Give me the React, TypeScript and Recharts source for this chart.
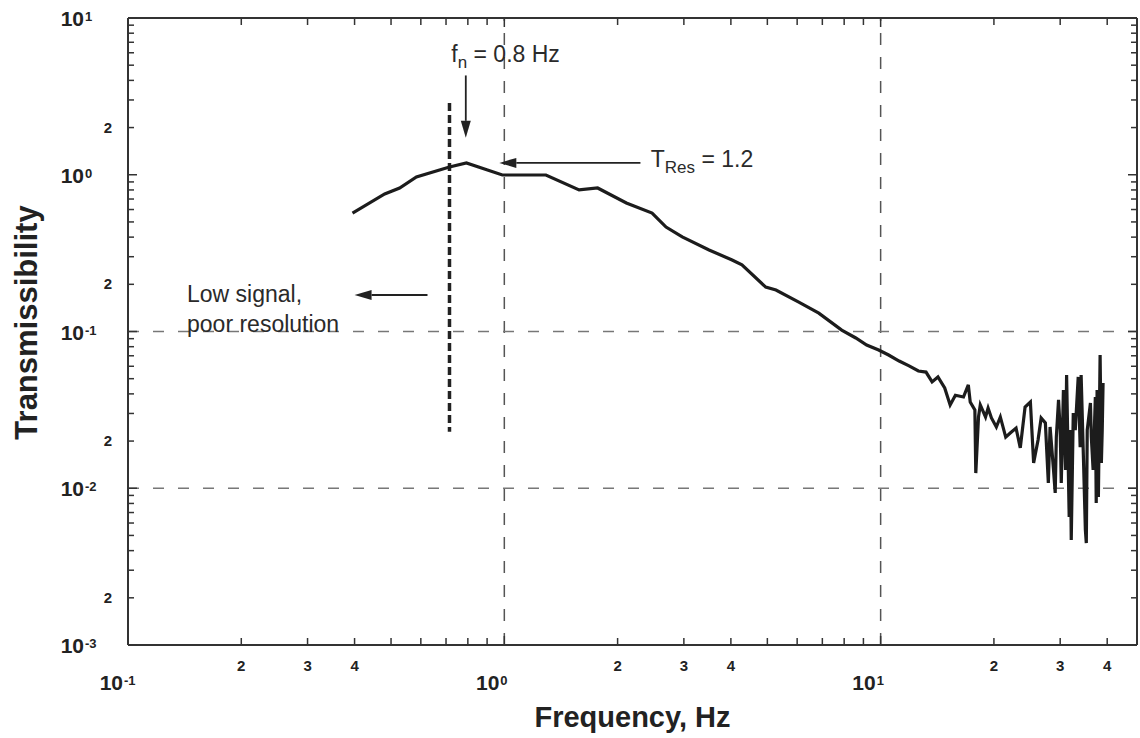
import { LineChart, Line, XAxis, YAxis, ReferenceLine, ReferenceDot, Label } from 'recharts'

const frequency = [
  0.395, 0.481, 0.527, 0.584, 0.715, 0.793, 0.988, 1.29, 1.58, 1.77, 2.11, 2.47, 2.69, 2.97, 3.5, 4.03, 4.28,
  4.95, 5.27, 6.06, 6.85, 7.88, 8.59, 9.18, 9.88, 10.5, 11.2, 11.9, 12.6, 13.2, 13.7, 14.2, 14.8, 15.3, 15.8,
  16.6, 17.1, 17.3, 17.8, 17.9, 18.2, 18.4, 19.0, 19.3, 19.7, 20.3, 20.8, 21.5, 22.1, 22.9, 23.5, 24.2, 25.0,
  25.5, 26.2, 26.7, 27.4, 27.9, 28.2, 28.8, 29.1, 29.3, 29.7, 30.0, 30.2, 30.6, 31.0, 31.2, 31.7, 31.9, 32.1,
  32.5, 32.9, 33.5, 33.9, 34.1, 34.6, 35.0, 35.2, 35.4, 36.1, 36.3, 36.7, 37.2, 37.4, 37.6, 37.9, 38.3, 38.6,
  38.8, 39.0,
]
const transmissibility = [
  0.57, 0.754, 0.823, 0.967, 1.12, 1.19, 0.996, 0.996, 0.8, 0.823, 0.66, 0.57, 0.464, 0.401, 0.331, 0.286,
  0.266, 0.192, 0.184, 0.154, 0.131, 0.102, 0.0909, 0.082, 0.0762, 0.0708, 0.0648, 0.0603, 0.056, 0.0551,
  0.0477, 0.0513, 0.0436, 0.034, 0.0392, 0.0382, 0.0456, 0.0355, 0.0316, 0.0125, 0.0285, 0.034, 0.0285,
  0.0325, 0.0281, 0.0246, 0.0285, 0.0212, 0.0225, 0.0242, 0.0181, 0.033, 0.0355, 0.0145, 0.0203, 0.0281,
  0.0261, 0.0108, 0.0246, 0.0131, 0.00933, 0.0212, 0.0366, 0.0235, 0.0108, 0.0423, 0.0131, 0.0528, 0.00655,
  0.0235, 0.00468, 0.0302, 0.0235, 0.0513, 0.0183, 0.0528, 0.0151, 0.00542, 0.00447, 0.0235, 0.035, 0.0212,
  0.0131, 0.0382, 0.00805, 0.0423, 0.00879, 0.0708, 0.0145, 0.0235, 0.0469,
]

// axis ticks
const xDecades = [0.1, 1, 10]
const yDecades = [0.001, 0.01, 0.1, 1, 10]
const minorMantissas = [2, 3, 4, 5, 6, 7, 8, 9]
const xLabeledMantissas = [2, 3, 4]
const yLabeledMantissas = [2]
const xMin = 0.1
const xMax = 48
const yMin = 0.001
const yMax = 10

// layout
const CHART_W = 1140
const CHART_H = 738
const MARGIN = { top: 18, right: 2, bottom: 3, left: 0 }
const Y_AXIS_W = 128
const RIGHT_AXIS_W = 1
const PLOT_W = CHART_W - MARGIN.left - MARGIN.right - Y_AXIS_W - RIGHT_AXIS_W

const data = frequency.map((f, i) => ({ f, v: transmissibility[i] }))

const buildTicks = (decades: number[], max: number) => {
  const out: number[] = []
  decades.forEach((d) => {
    out.push(d)
    minorMantissas.forEach((m) => {
      const t = Number((m * d).toPrecision(6))
      if (t <= max) out.push(t)
    })
  })
  return out.sort((a, b) => a - b)
}
const xTicks = buildTicks(xDecades, xMax)
const yTicks = buildTicks(yDecades, yMax)

const split = (v: number) => {
  const exp = Math.floor(Math.log10(v) + 1e-9)
  const mant = Math.round(v / Math.pow(10, exp))
  return { exp, mant }
}

const FONT = '"Liberation Sans", Arial, Helvetica, sans-serif'
const INK = '#222'
const FRAME = '#333'

const BottomTick = (props: any) => {
  const { x, y, payload } = props
  const { exp, mant } = split(payload.value)
  const major = mant === 1
  return (
    <g fontFamily={FONT} fontWeight="bold" fill={INK}>
      <line x1={x} x2={x} y1={y} y2={y - (major ? 9 : 7)} stroke={FRAME} strokeWidth={1.5} />
      {major ? (
        <>
          <text x={x - 5} y={y + 45} fontSize={21} textAnchor="end">10</text>
          <text x={x - 4} y={y + 40} fontSize={13} textAnchor="start">{exp}</text>
        </>
      ) : xLabeledMantissas.includes(mant) ? (
        <text x={x} y={y + 26} fontSize={15} textAnchor="middle">{mant}</text>
      ) : null}
    </g>
  )
}

// top edge of the frame, hung off the highest left tick
const TopEdge = ({ x, y }: { x: number; y: number }) => {
  const lx = Math.log10(xMin)
  const span = Math.log10(xMax) - lx
  return (
    <g>
      <line x1={x} x2={x + PLOT_W} y1={y} y2={y} stroke={FRAME} strokeWidth={2} />
      {xTicks.map((t) => {
        const px = x + ((Math.log10(t) - lx) / span) * PLOT_W
        return <line key={t} x1={px} x2={px} y1={y} y2={y + (split(t).mant === 1 ? 9 : 7)} stroke={FRAME} strokeWidth={1.5} />
      })}
    </g>
  )
}

const LeftTick = (props: any) => {
  const { x, y, payload } = props
  const { exp, mant } = split(payload.value)
  const major = mant === 1
  return (
    <g fontFamily={FONT} fontWeight="bold" fill={INK}>
      {payload.value === yMax ? <TopEdge x={x} y={y} /> : null}
      <line x1={x} x2={x + (major ? 9 : 6)} y1={y} y2={y} stroke={FRAME} strokeWidth={1.5} />
      {major ? (
        <>
          <text x={x - 44} y={y + 8} fontSize={21} textAnchor="end">10</text>
          <text x={x - 43} y={y + 3} fontSize={13} textAnchor="start">{exp}</text>
        </>
      ) : yLabeledMantissas.includes(mant) ? (
        <text x={x - 16} y={y + 5} fontSize={15} textAnchor="end">{mant}</text>
      ) : null}
    </g>
  )
}

const RightTick = (props: any) => {
  const { x, y, payload } = props
  const { mant } = split(payload.value)
  return <line x1={x} x2={x - (mant === 1 ? 9 : 6)} y1={y} y2={y} stroke={FRAME} strokeWidth={1.5} />
}

const Arrow = (props: any) => {
  const { x1, y1, x2, y2 } = props
  const dx = x2 - x1
  const dy = y2 - y1
  const len = Math.hypot(dx, dy) || 1
  const ux = dx / len
  const uy = dy / len
  const head = 17
  const half = 5
  const bx = x2 - ux * head
  const by = y2 - uy * head
  return (
    <g>
      <line x1={x1} y1={y1} x2={bx} y2={by} stroke={INK} strokeWidth={1.8} />
      <polygon
        points={`${x2},${y2} ${bx - uy * half},${by + ux * half} ${bx + uy * half},${by - ux * half}`}
        fill={INK}
      />
    </g>
  )
}

const noteStyle = { fontFamily: FONT, fontSize: 23, fill: '#2a2a2a' }

const FnText = (p: any) => (
  <text x={p.cx} y={p.cy} {...noteStyle}>
    f<tspan fontSize={17} dy={6}>n</tspan>
    <tspan dy={-6}> = 0.8 Hz</tspan>
  </text>
)

const TresText = (p: any) => (
  <text x={p.cx} y={p.cy} {...noteStyle}>
    T<tspan fontSize={17} dy={6}>Res</tspan>
    <tspan dy={-6}> = 1.2</tspan>
  </text>
)

const lineText = (s: string) => (p: any) => (
  <text x={p.cx} y={p.cy} {...noteStyle}>{s}</text>
)

const xTitle = (p: any) => {
  const vb = p.viewBox
  return (
    <text x={vb.x + vb.width / 2} y={vb.y + 82} textAnchor="middle" fontFamily={FONT} fontWeight="bold" fontSize={29} fill={INK}>
      Frequency, Hz
    </text>
  )
}

const yTitle = (p: any) => {
  const vb = p.viewBox
  const cx = vb.x + 37
  const cy = vb.y + vb.height / 2 - 9
  return (
    <text x={cx} y={cy} transform={`rotate(-90, ${cx}, ${cy})`} textAnchor="middle" fontFamily={FONT} fontWeight="bold" fontSize={31} fill={INK}>
      Transmissibility
    </text>
  )
}

export default function App() {
  return (
    <div style={{ position: 'absolute', left: 0, top: 0, width: CHART_W, height: CHART_H, background: '#fff' }}>
      <LineChart width={CHART_W} height={CHART_H} data={data} margin={MARGIN}>
        <XAxis
          xAxisId="b"
          dataKey="f"
          type="number"
          scale="log"
          domain={[xMin, xMax]}
          allowDataOverflow
          ticks={xTicks}
          interval={0}
          tickSize={0}
          tickMargin={0}
          tickLine={false}
          tick={<BottomTick />}
          height={90}
          axisLine={{ stroke: FRAME, strokeWidth: 2 }}
        >
          <Label content={xTitle} />
        </XAxis>
        <YAxis
          yAxisId="l"
          type="number"
          scale="log"
          domain={[yMin, yMax]}
          allowDataOverflow
          ticks={yTicks}
          interval={0}
          tickSize={0}
          tickMargin={0}
          tickLine={false}
          tick={<LeftTick />}
          width={Y_AXIS_W}
          axisLine={{ stroke: FRAME, strokeWidth: 2 }}
        >
          <Label content={yTitle} />
        </YAxis>
        <YAxis
          yAxisId="r"
          orientation="right"
          type="number"
          scale="log"
          domain={[yMin, yMax]}
          allowDataOverflow
          ticks={yTicks}
          interval={0}
          tickSize={0}
          tickMargin={0}
          tickLine={false}
          tick={<RightTick />}
          width={RIGHT_AXIS_W}
          axisLine={{ stroke: FRAME, strokeWidth: 2 }}
        />

        {/* decade grid */}
        <ReferenceLine xAxisId="b" yAxisId="l" x={1} stroke="#555" strokeWidth={1.5} strokeDasharray="12 12" />
        <ReferenceLine xAxisId="b" yAxisId="l" x={10} stroke="#555" strokeWidth={1.5} strokeDasharray="12 12" />
        <ReferenceLine xAxisId="b" yAxisId="l" y={0.1} stroke="#777" strokeWidth={1.5} strokeDasharray="11 14" />
        <ReferenceLine xAxisId="b" yAxisId="l" y={0.01} stroke="#777" strokeWidth={1.5} strokeDasharray="11 14" />

        {/* natural frequency marker */}
        <ReferenceLine
          xAxisId="b"
          yAxisId="l"
          segment={[{ x: 0.715, y: 2.87 }, { x: 0.715, y: 0.0229 }]}
          stroke={INK}
          strokeWidth={3.5}
          strokeDasharray="8 4"
        />

        <Line
          xAxisId="b"
          yAxisId="l"
          type="linear"
          dataKey="v"
          stroke="#1c1c1c"
          strokeWidth={3.2}
          dot={false}
          isAnimationActive={false}
        />

        {/* annotations */}
        <ReferenceLine xAxisId="b" yAxisId="l" segment={[{ x: 0.79, y: 4.3 }, { x: 0.79, y: 1.72 }]} shape={Arrow} />
        <ReferenceLine xAxisId="b" yAxisId="l" segment={[{ x: 2.3, y: 1.19 }, { x: 0.97, y: 1.19 }]} shape={Arrow} />
        <ReferenceLine xAxisId="b" yAxisId="l" segment={[{ x: 0.625, y: 0.171 }, { x: 0.4, y: 0.171 }]} shape={Arrow} />
        <ReferenceDot xAxisId="b" yAxisId="l" x={0.723} y={5.24} r={0} shape={FnText} />
        <ReferenceDot xAxisId="b" yAxisId="l" x={2.45} y={1.12} r={0} shape={TresText} />
        <ReferenceDot xAxisId="b" yAxisId="l" x={0.1435} y={0.154} r={0} shape={lineText('Low signal,')} />
        <ReferenceDot xAxisId="b" yAxisId="l" x={0.1435} y={0.0993} r={0} shape={lineText('poor resolution')} />
      </LineChart>
    </div>
  )
}
